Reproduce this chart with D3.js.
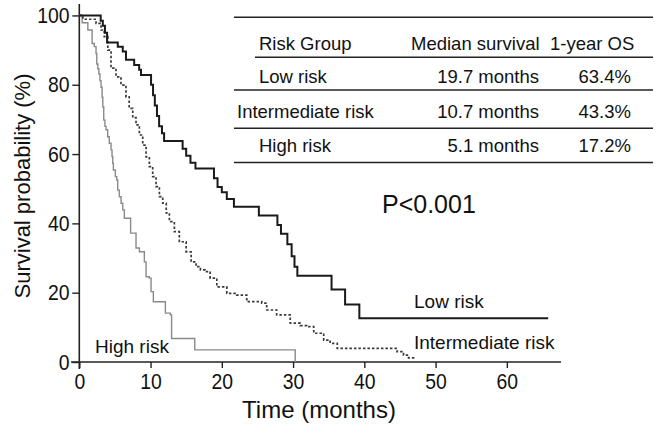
<!DOCTYPE html>
<html>
<head>
<meta charset="utf-8">
<script src="https://cdn.jsdelivr.net/npm/d3@7"></script>
<style>
  html, body { margin: 0; padding: 0; background: #fff; }
  svg { display: block; font-family: "Liberation Sans", Arial, Helvetica, sans-serif; }
</style>
</head>
<body>
<svg id="chart" width="656" height="435"></svg>
<script>
// ---------- data ----------
const xTicks = [0, 10, 20, 30, 40, 50, 60];
const yTicks = [0, 20, 40, 60, 80, 100];

const lowTimes = [0, 3.0, 3.3, 3.6, 3.9, 5.4, 6.1, 6.55, 7.7, 8.4, 8.66, 10.07, 10.35, 10.6, 10.9, 11.2, 11.6, 11.9, 14.5, 15.0, 15.6, 16.3, 18.9, 19.4, 20.0, 20.7, 21.7, 25.2, 27.8, 28.3, 29.2, 29.8, 30.2, 30.6, 35.4, 37.3, 39.3, 65.8];
const lowSurv  = [100, 98.5, 97, 95, 92.2, 91.0, 89.6, 87.2, 85.7, 84.3, 82.8, 80, 77, 74, 71, 68, 66, 63.8, 61.5, 59.5, 57.5, 55.8, 53, 50.5, 49, 47, 44.8, 42.3, 39.5, 37, 34, 30.5, 27.5, 24.9, 20.9, 16.6, 12.6, 12.6];

const intTimes = [0, 0.5, 2.35, 3.05, 3.5, 4.0, 4.45, 5.15, 5.85, 6.55, 7.0, 7.5, 7.96, 8.43, 8.9, 9.37, 9.83, 10.3, 10.77, 11.24, 11.71, 12.2, 12.64, 13.34, 14.04, 14.99, 15.69, 16.39, 17.0, 17.65, 18.36, 19.3, 20.7, 22.1, 23.5, 25.6, 26.3, 27.7, 29.6, 31.0, 31.9, 32.9, 34.3, 35.2, 36.2, 44.6, 45.5, 46.2, 46.9, 47.1];
const intSurv  = [100, 98.9, 97.7, 95.8, 93.9, 90.0, 84.8, 82.3, 79.9, 76.5, 73.2, 70.5, 68.4, 65.5, 62.6, 59.2, 56.4, 53.5, 50.6, 47.7, 45.8, 43.0, 40.5, 37.6, 34.7, 31.8, 28.9, 27.5, 26.6, 26.1, 24.2, 21.7, 19.8, 19.3, 17.4, 17.0, 15.0, 13.6, 11.2, 10.5, 10.2, 8.3, 6.3, 5.4, 3.95, 3.0, 2.0, 1.2, 1.2, 1.2];

const highTimes = [0, 0.4, 1.2, 1.8, 2.1, 2.35, 2.45, 2.6, 2.75, 2.9, 3.05, 3.2, 3.3, 3.43, 3.6, 3.75, 3.98, 4.21, 4.45, 4.59, 4.69, 4.78, 5.06, 5.25, 5.39, 5.62, 5.86, 6.1, 6.32, 7.2, 7.96, 8.43, 9.13, 9.37, 9.83, 10.07, 10.39, 12.08, 12.78, 12.95, 16.2, 30.3];
const highSurv  = [100, 97.9, 95.8, 91.9, 91, 89, 86, 84.6, 83.1, 81.2, 79.3, 76.4, 73.6, 69.8, 68.0, 67.0, 65.0, 63.1, 61.2, 59.3, 57.3, 55.4, 53.5, 52.5, 49.6, 47.7, 45.8, 43.9, 41.5, 37.2, 32.9, 31.8, 28.9, 24.6, 24.2, 20.3, 17.4, 14.1, 13.6, 6.8, 3.5, 0];

const curveLabels = ["Low risk", "Intermediate risk", "High risk"];
const tableHeader = ["Risk Group", "Median survival", "1-year OS"];
const tableGroups = ["Low risk", "Intermediate risk", "High risk"];
const tableMedians = ["19.7 months", "10.7 months", "5.1 months"];
const tableOS = ["63.4%", "43.3%", "17.2%"];
const pText = "P<0.001";

// ---------- layout ----------
const svg = d3.select("#chart");
const x = d3.scaleLinear().domain([0, 67.6]).range([79.3, 561]);
const y = d3.scaleLinear().domain([0, 103.3]).range([362, 4]);
const ink = "#111";

// axes
const xAxis = svg.append("g").attr("transform", `translate(0,${y(0)})`)
  .call(d3.axisBottom(x).tickValues(xTicks).tickSize(6).tickPadding(5).tickSizeOuter(0));
xAxis.select(".domain").remove();
xAxis.append("line").attr("x1", 71).attr("x2", x(67.6)).attr("y1", 0).attr("y2", 0)
  .attr("stroke", "#222").attr("stroke-width", 1.6);
xAxis.selectAll(".tick line").attr("stroke", "#222").attr("stroke-width", 1.4);
xAxis.selectAll(".tick text").attr("fill", ink).attr("font-size", 22)
  .attr("font-family", "Liberation Sans, Arial, sans-serif")
  .attr("transform", "scale(0.88,1)");

const yAxis = svg.append("g").attr("transform", `translate(${x(0)},0)`)
  .call(d3.axisLeft(y).tickValues(yTicks).tickSize(7).tickPadding(4).tickSizeOuter(0));
yAxis.select(".domain").remove();
yAxis.append("line").attr("x1", 0).attr("x2", 0).attr("y1", y(0) + 7).attr("y2", y(103.3))
  .attr("stroke", "#222").attr("stroke-width", 1.6);
yAxis.selectAll(".tick line").attr("stroke", "#222").attr("stroke-width", 1.4);
yAxis.selectAll(".tick text").attr("fill", ink).attr("font-size", 22)
  .attr("font-family", "Liberation Sans, Arial, sans-serif")
  .attr("transform", "scale(0.88,1)");

// axis titles
svg.append("text").attr("x", 319).attr("y", 418).attr("text-anchor", "middle")
  .attr("font-size", 24).attr("fill", ink).text("Time (months)");
svg.append("text").attr("transform", "translate(30,186) rotate(-90)").attr("text-anchor", "middle")
  .attr("font-size", 22).attr("fill", ink).text("Survival probability (%)");

// curves
const line = d3.line().x(d => x(d[0])).y(d => y(d[1])).curve(d3.curveStepAfter);
function series(times, surv) { return times.map((t, i) => [t, surv[i]]); }

svg.append("path").datum(series(highTimes, highSurv)).attr("d", line)
  .attr("fill", "none").attr("stroke", "#8a8a8a").attr("stroke-width", 1.4);
svg.append("path").datum(series(intTimes, intSurv)).attr("d", line)
  .attr("fill", "none").attr("stroke", "#3a3a3a").attr("stroke-width", 1.7).attr("stroke-dasharray", "2.5,2");
svg.append("path").datum(series(lowTimes, lowSurv)).attr("d", line)
  .attr("fill", "none").attr("stroke", "#1a1a1a").attr("stroke-width", 2);

// curve labels
svg.append("text").attr("x", 414).attr("y", 308).attr("font-size", 19).attr("fill", ink).text(curveLabels[0]);
svg.append("text").attr("x", 414).attr("y", 349).attr("font-size", 19).attr("fill", ink).text(curveLabels[1]);
svg.append("text").attr("x", 95).attr("y", 353).attr("font-size", 19).attr("fill", ink).text(curveLabels[2]);

// p-value
svg.append("text").attr("x", 382).attr("y", 213).attr("font-size", 25).attr("fill", ink).text(pText);

// table
const tbl = svg.append("g");
const rules = [[234, 17.3], [255, 57.3], [234, 90], [234, 128.3], [234, 162.5]];
rules.forEach(r => tbl.append("line").attr("x1", r[0]).attr("x2", 653).attr("y1", r[1]).attr("y2", r[1])
  .attr("stroke", "#222").attr("stroke-width", 1.5));
const fs = 18.5;
tbl.append("text").attr("x", 259).attr("y", 50).attr("font-size", fs).attr("fill", ink).text(tableHeader[0]);
tbl.append("text").attr("x", 411).attr("y", 50).attr("font-size", fs).attr("fill", ink).text(tableHeader[1]);
tbl.append("text").attr("x", 550).attr("y", 50).attr("font-size", fs).attr("fill", ink).text(tableHeader[2]);
const rowY = [82.7, 118.3, 151.7];
const groupX = [259, 237, 259];
tableGroups.forEach((g, i) => {
  tbl.append("text").attr("x", groupX[i]).attr("y", rowY[i]).attr("font-size", fs).attr("fill", ink).text(g);
  tbl.append("text").attr("x", 539).attr("y", rowY[i]).attr("text-anchor", "end").attr("font-size", fs).attr("fill", ink).text(tableMedians[i]);
  tbl.append("text").attr("x", 631).attr("y", rowY[i]).attr("text-anchor", "end").attr("font-size", fs).attr("fill", ink).text(tableOS[i]);
});
</script>
</body>
</html>
